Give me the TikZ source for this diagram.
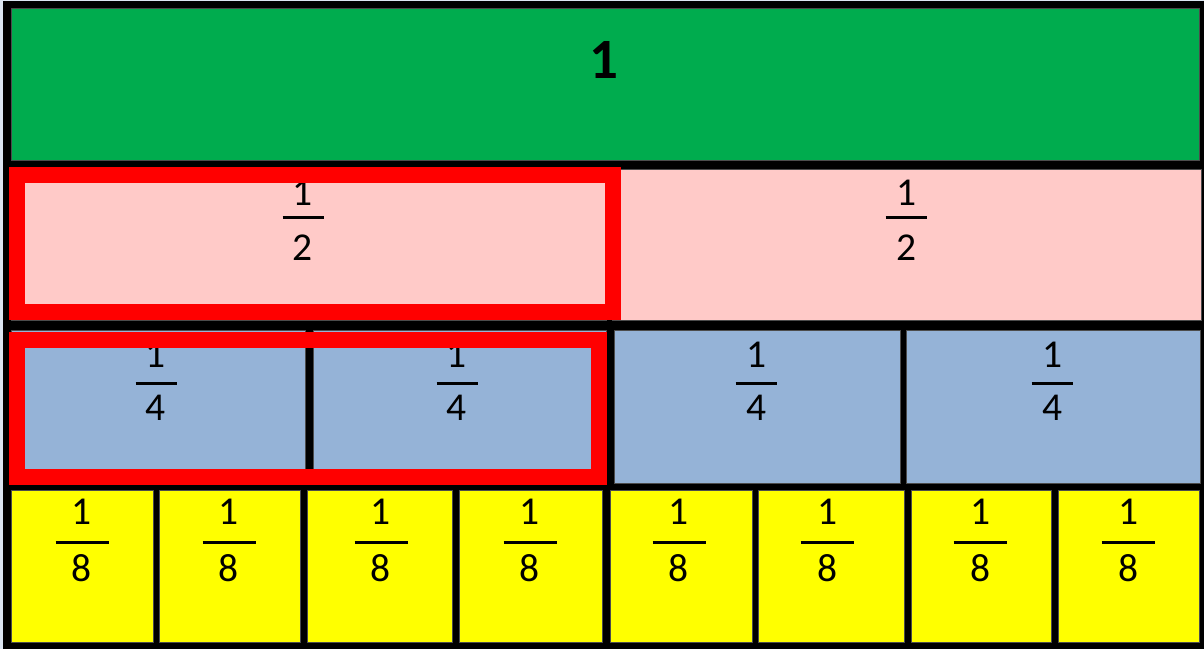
\documentclass[tikz,border=0pt]{standalone}
\usepackage{fontspec}
\setmainfont{Carlito}
\definecolor{BarGreen}{HTML}{00AC4E}
\definecolor{HalfPink}{HTML}{FFCAC8}
\definecolor{QuarterBlue}{HTML}{95B3D7}
\definecolor{EighthYellow}{HTML}{FFFF00}
\definecolor{MarkRed}{HTML}{FF0000}
\definecolor{PageTint}{HTML}{DCE6F2}

\tikzset{
  cell/.style={draw=black!70, line width=0.8pt},
  digit/.style={inner sep=0pt, font=\fontsize{39.5}{40}\selectfont},
  fracbar/.style={line width=3pt},
  markbox/.style={draw=MarkRed, line width=16pt},
}

\begin{document}
\begin{tikzpicture}[x=1pt,y=-1pt]
  \useasboundingbox (0,0) rectangle (1204,649);
  % page tint and black frame
  \fill[PageTint] (0,0) rectangle (1204,649);
  \fill[black] (3,1) rectangle (1204,649);

  % whole
  \filldraw[cell, fill=BarGreen] (11,8) rectangle (1199,160);
  \node[inner sep=0pt, font=\fontsize{57}{58}\selectfont\bfseries] (whole) at (604,60) {1};

  % halves
  \filldraw[cell, fill=HalfPink] (11,169) rectangle (606,320);
  \filldraw[cell, fill=HalfPink] (612,169) rectangle (1201,320);
  \foreach \cx [count=\i] in {303,906} {
    \node[digit] (half\i num) at (\cx,192.5) {1};
    \node[digit] (half\i den) at (\cx,248) {2};
    \draw[fracbar] (\cx-20.5,217) -- (\cx+20.5,217);
  }

  % quarters
  \foreach \xa/\xb in {11/305, 313/606, 614/900, 906/1200} {
    \filldraw[cell, fill=QuarterBlue] (\xa,330) rectangle (\xb,483);
  }
  \foreach \cx [count=\i] in {156,457,756,1052} {
    \node[digit] (quarter\i num) at (\cx,354.5) {1};
    \node[digit] (quarter\i den) at (\cx,408) {4};
    \draw[fracbar] (\cx-20.5,383) -- (\cx+20.5,383);
  }

  % eighths
  \foreach \xa/\xb in {11/153, 159/300, 307/452, 459/602, 610/752, 758/904, 911/1051, 1058/1199} {
    \filldraw[cell, fill=EighthYellow] (\xa,490) rectangle (\xb,642);
  }
  \foreach \cx [count=\i] in {82,229,381,530,679,827,980,1128} {
    \node[digit] (eighth\i num) at (\cx,511.5) {1};
    \node[digit] (eighth\i den) at (\cx,568.5) {8};
    \draw[fracbar] (\cx-26.5,542) -- (\cx+26.5,542);
  }

  % red marks: one half = two quarters
  \draw[markbox] (17,175) rectangle (613,312);
  \draw[markbox] (17,340) rectangle (599,477);
\end{tikzpicture}
\end{document}
